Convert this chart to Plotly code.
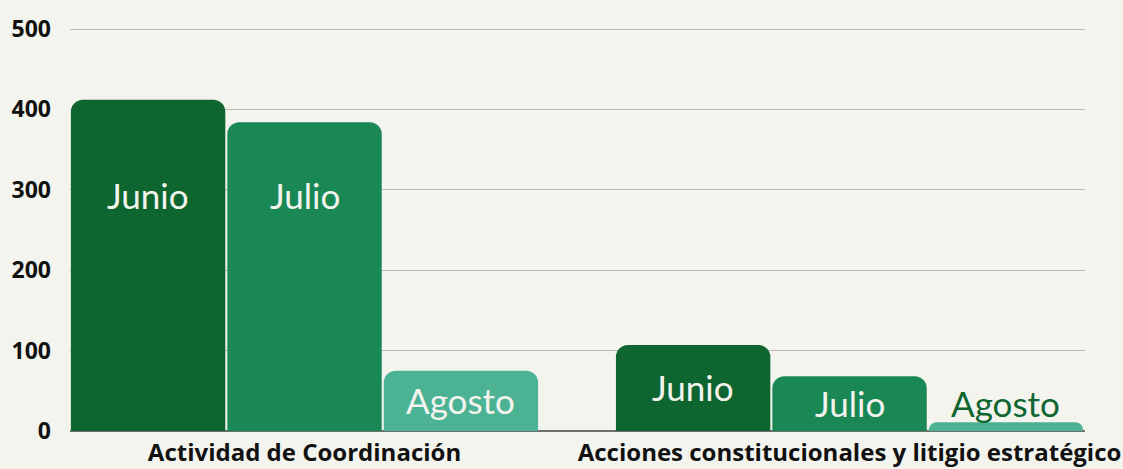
import plotly.graph_objects as go

categories = ["Actividad de Coordinación", "Acciones constitucionales y litigio estratégico"]
months = ["Junio", "Julio", "Agosto"]
junio = [412, 107]
julio = [384, 68]
agosto = [75, 11]
yticks = [0, 100, 200, 300, 400, 500]

series = [junio, julio, agosto]
colors = ["#0f652f", "#1a8855", "#4cb294"]
bg = "#f4f4ef"
label_font = "Lato"
ytick_font = dict(family="Open Sans", size=23, color="#111111", weight="bold")
xtick_font = dict(family="Open Sans", size=24, color="#111111", weight="bold")

fig = go.Figure()
xs = list(range(len(categories)))
for name, vals, col in zip(months, series, colors):
    fig.add_trace(go.Bar(
        x=xs, y=vals, name=name, marker=dict(color=col, cornerradius=12, line=dict(width=0)),
        hoverinfo="skip",
    ))

# labels: centered in bar, placed at a fixed height for tall bars; outside if bar too short
nb = len(months)
groupw = 1 - 0.139
bw = groupw / nb
for j, (name, vals, col) in enumerate(zip(months, series, colors)):
    for i, v in enumerate(vals):
        xpos = i - groupw / 2 + bw * (j + 0.5)
        if v >= 40:
            ylab = 293 if v > 300 else v / 2 + 1
            fig.add_annotation(x=xpos, y=ylab, text=name, showarrow=False,
                               xref="x", yref="y", yanchor="middle",
                               font=dict(family=label_font, size=35, color=bg))
        else:
            fig.add_annotation(x=xpos, y=v, text=name, showarrow=False,
                               xref="x", yref="y", yanchor="bottom", yshift=-4,
                               font=dict(family=label_font, size=35, color=colors[0]))

fig.update_layout(
    width=1123, height=469,
    margin=dict(l=70, r=38, t=25, b=38, autoexpand=False),
    paper_bgcolor=bg, plot_bgcolor=bg,
    barmode="group", bargap=0.139, bargroupgap=0.013,
    showlegend=False,
    xaxis=dict(
        range=[-0.4303, 1.432], tickmode="array", tickvals=xs, ticktext=categories,
        showgrid=False, zeroline=False, showline=False, ticks="",
        ticklabelstandoff=5, automargin=False,
        tickfont=xtick_font,
        fixedrange=True,
    ),
    yaxis=dict(
        range=[0, 505], tickmode="array", tickvals=yticks,
        showgrid=True, gridcolor="#bcbcb4", gridwidth=1,
        zeroline=True, zerolinecolor="#6e6e6e", zerolinewidth=1.5,
        ticks="", ticklabelstandoff=18, automargin=False,
        tickfont=ytick_font,
        fixedrange=True,
    ),
)

fig.write_html("out.html", config={"displayModeBar": False})
